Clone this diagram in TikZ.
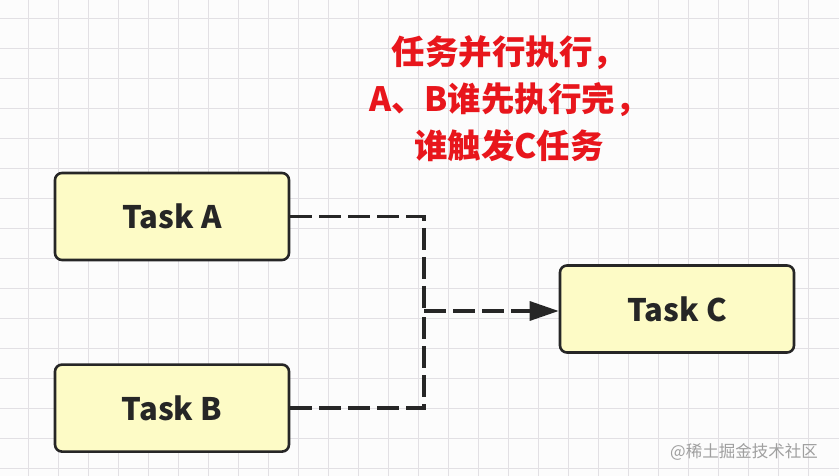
\documentclass[tikz,border=0pt]{standalone}
\usepackage{fontspec}
\newfontfamily\cjk{Noto Sans CJK SC}
\usetikzlibrary{positioning,arrows.meta}
\definecolor{taskfill}{HTML}{FDFBC6}
\definecolor{notered}{HTML}{E8161C}
\definecolor{gridgray}{HTML}{E2E0E4}

\begin{document}
\begin{tikzpicture}
  [
      x=1pt, y=-1pt,
      task/.style={rectangle, rounded corners=7pt, draw=black!85, line width=2.6pt, fill=taskfill,
        minimum width=234pt, minimum height=87pt, text=black!85,
        font=\cjk\bfseries\fontsize{31}{31}\selectfont},
      link/.style={draw=black!85, line width=3.3pt, dash pattern=on 22pt off 7pt},
      grid line/.style={draw=gridgray, line width=0.8pt}
    ]
    \useasboundingbox (0,0) rectangle (839,476);
    \fill[white!98!gray] (0,0) rectangle (839,476);
    \foreach \x in {28.3,58.3,...,838}
      \draw [grid line] (\x,0) -- (\x,476);
    \foreach \y in {18.3,48.3,...,476}
      \draw [grid line] (0,\y) -- (839,\y);
    \node (a) [task] at (172,216.5) {Task A};
    \node (b) [task, below=102pt of a] {Task B};
    \node (c) [task] at (677,309) {Task C};
    \coordinate (j) at (424,311);
    \foreach \i in {a,b}
      \draw [link] (\i.east) -| (j);
    \draw [link, -{Triangle[length=29pt, width=19pt]}] (j) -- (j -| c.west);
    \node (note) [align=center, text=notered, font=\cjk\bfseries\fontsize{33.5}{47}\selectfont]
      at (509,99) {任务并行执行，\\A、B谁先执行完，\\谁触发C任务};
    \node (mark) [text=gray!75, font=\cjk\fontsize{16.5}{17}\selectfont] at (744,452) {@稀土掘金技术社区};
  \end{tikzpicture}
\end{document}
